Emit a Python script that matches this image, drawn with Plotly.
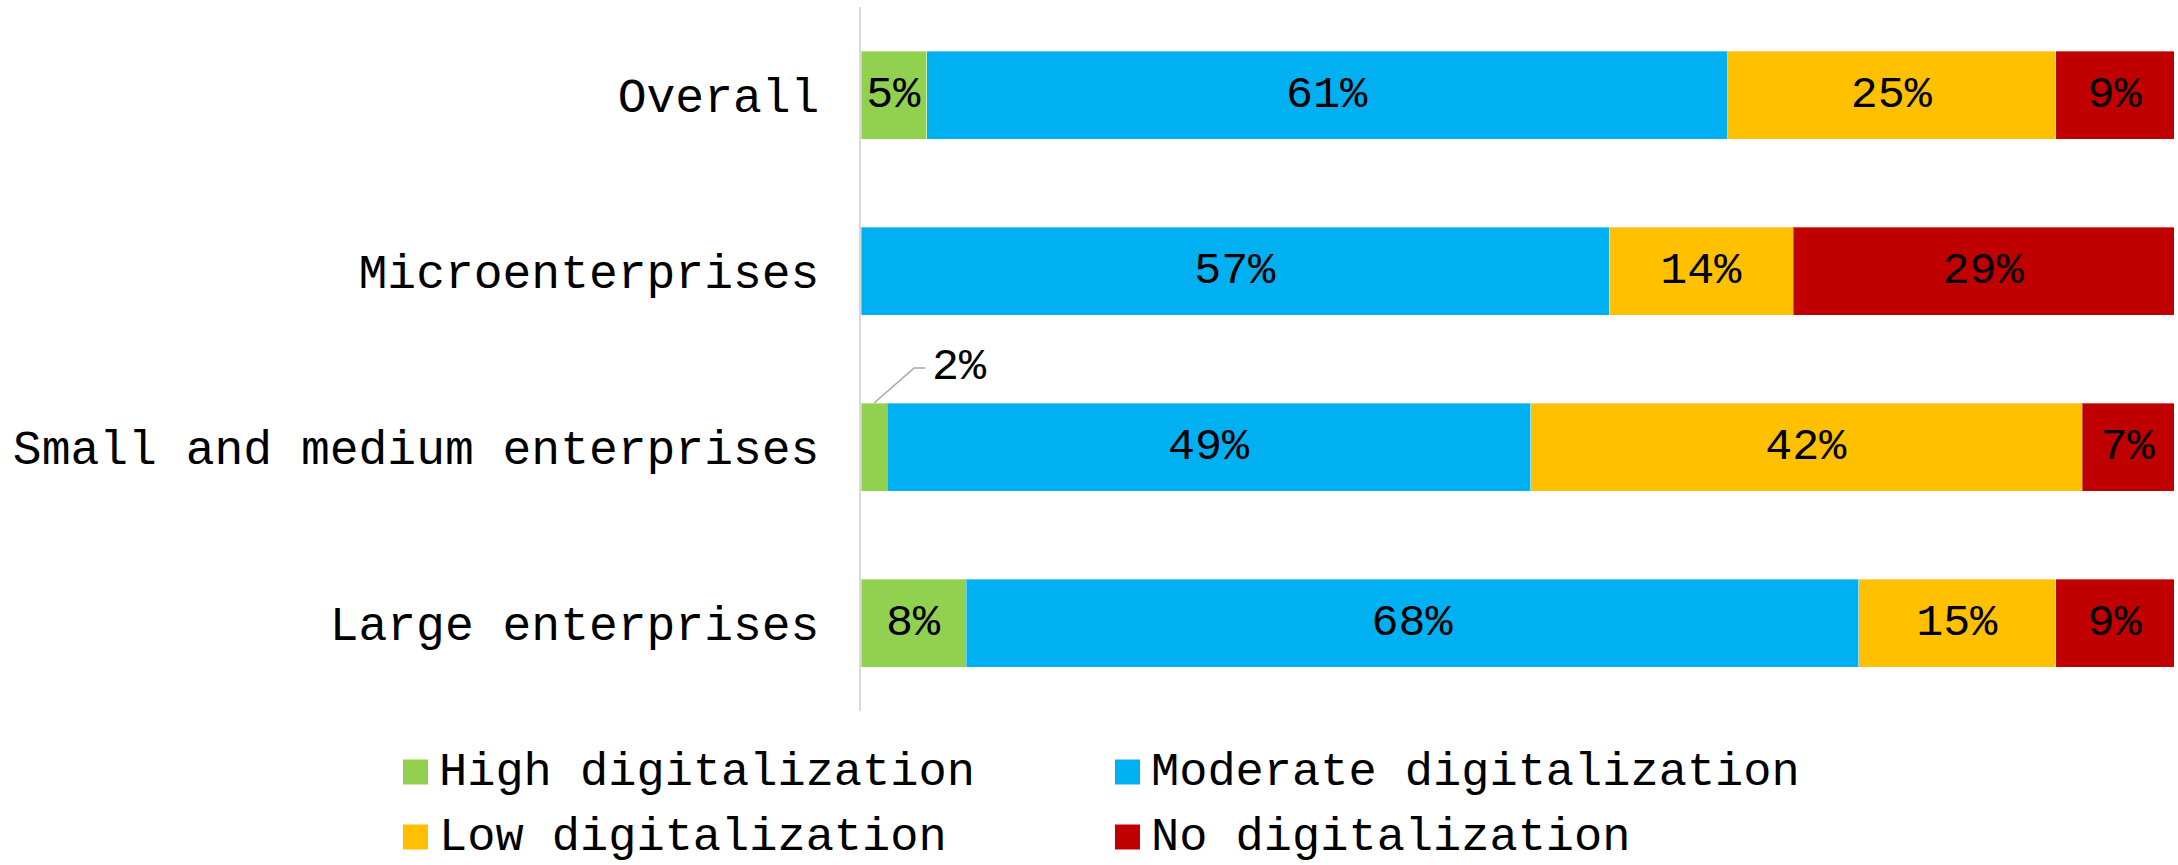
import plotly.graph_objects as go

categories = ["Overall", "Microenterprises", "Small and medium enterprises", "Large enterprises"]
series_names = ["High digitalization", "Moderate digitalization", "Low digitalization", "No digitalization"]
high = [5, 0, 2, 8]
moderate = [61, 57, 49, 68]
low = [25, 14, 42, 15]
none_ = [9, 29, 7, 9]
colors = ["#92D050", "#00B0F0", "#FFC000", "#C00000"]

W, H = 2178, 865
ML, MR, MT, MB = 861, 4, 7, 154
FONT = "Liberation Mono, Courier New, monospace"

fig = go.Figure()
for name, vals, col in zip(series_names, [high, moderate, low, none_], colors):
    # small segments get an outside callout instead of an inside label
    texts = [f"{v}%" if v >= 4 else "" for v in vals]
    fig.add_trace(go.Bar(
        y=categories, x=vals, name=name, orientation="h",
        marker=dict(color=col, line=dict(color="rgba(255,255,255,0.35)", width=1)),
        text=texts, textposition="inside", insidetextanchor="middle",
        textfont=dict(family=FONT, size=45, color="black"),
        textangle=0, constraintext="none", cliponaxis=False,
        showlegend=False, hoverinfo="x+y",
    ))

# callout for the 2% segment of small and medium enterprises
i_small = 2
x_mid = high[i_small] / 2
fig.add_shape(type="path", xref="x", yref="y", xsizemode="pixel", ysizemode="pixel",
              xanchor=x_mid, yanchor=categories[i_small],
              path="M0,44 L40,79 L51,79",
              line=dict(color="#A6A6A6", width=1.5))
fig.add_annotation(x=x_mid, y=categories[i_small], xref="x", yref="y",
                   text=f"{high[i_small]}%", showarrow=False,
                   xanchor="left", yanchor="middle", xshift=56, yshift=80,
                   font=dict(family=FONT, size=45, color="black"))

# legend drawn as swatches + labels below the plot
pw, ph = W - ML - MR, H - MT - MB
def px(x):
    return (x - ML) / pw
def py(y):
    return (H - MB - y) / ph

legend_pos = [(403, 772), (1115, 772), (403, 837), (1115, 837)]
for name, col, (lx, ly) in zip(series_names, colors, legend_pos):
    fig.add_shape(type="rect", xref="paper", yref="paper",
                  x0=px(lx), x1=px(lx + 25), y0=py(ly - 12.5), y1=py(ly + 12.5),
                  fillcolor=col, line=dict(width=0))
    fig.add_annotation(xref="paper", yref="paper", x=px(lx + 34), y=py(ly),
                       text=name, showarrow=False, xanchor="left", yanchor="middle",
                       font=dict(family=FONT, size=47, color="black"))

fig.update_layout(
    width=W, height=H,
    margin=dict(l=ML, r=MR, t=MT, b=MB, pad=0),
    barmode="stack", bargap=0.5,
    plot_bgcolor="white", paper_bgcolor="white",
    font=dict(family=FONT, size=48, color="black"),
    uniformtext=dict(mode=False),
)
fig.update_xaxes(range=[0, 100], visible=False, fixedrange=True)
fig.update_yaxes(
    autorange=False, range=[3.5, -0.5], categoryorder="array", categoryarray=categories,
    showline=True, linecolor="#D9D9D9", linewidth=2, showgrid=False, zeroline=False,
    ticks="", ticklabelstandoff=30,
    tickfont=dict(family=FONT, size=48, color="black"), fixedrange=True,
)

fig.write_html("out.html")
